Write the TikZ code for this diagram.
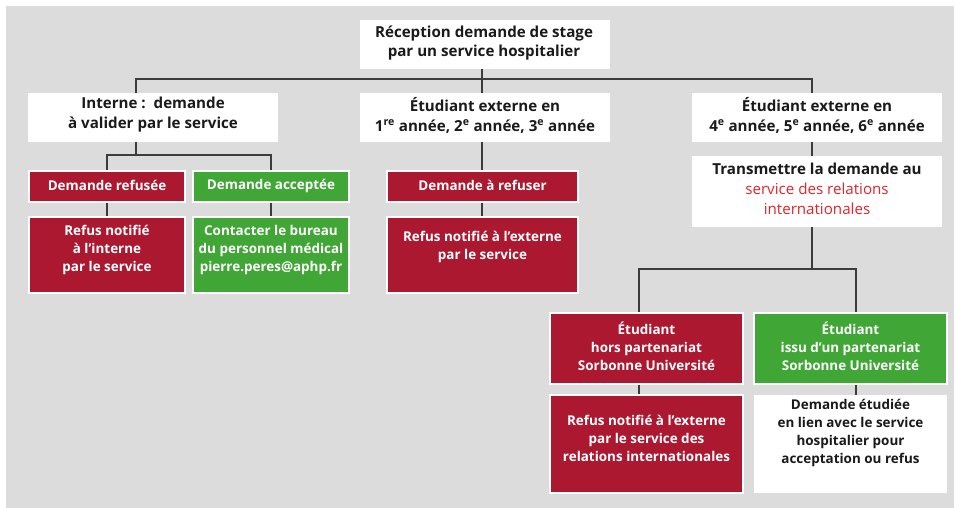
\documentclass[tikz,border=0pt]{standalone}
\usepackage{fontspec}
\setmainfont{Open Sans}
\definecolor{fond}{HTML}{DCDCDC}
\definecolor{rougebox}{HTML}{AB1830}
\definecolor{vertbox}{HTML}{40A635}
\definecolor{rougetxt}{HTML}{E2252B}
\definecolor{noir}{HTML}{1A1A1A}
\definecolor{trait}{HTML}{3C3C3C}
\tikzset{
  boxbase/.style={rectangle, inner sep=0pt},
  wbox/.style={boxbase, fill=white},
  rbox/.style={boxbase, fill=rougebox, draw=white, line width=1.5bp},
  gbox/.style={boxbase, fill=vertbox, draw=white, line width=1.5bp},
  bigtxt/.style={inner sep=0pt, align=center, text=noir, font=\fontsize{15.2}{20}\selectfont\bfseries},
  smltxt/.style={inner sep=0pt, align=center, text=white, font=\fontsize{13.5}{18}\selectfont\bfseries},
  smlblk/.style={smltxt, text=noir},
  conn/.style={draw=trait, line width=1.2bp},
}
\begin{document}
\begin{tikzpicture}[x=1bp,y=-1bp]
\useasboundingbox (0,0) rectangle (955,508);
\fill[fond] (6,6) rectangle (954,508);

% boxes
\node[wbox, minimum width=250bp, minimum height=49bp] (top) at (485,44.5) {};
\node[wbox, minimum width=250bp, minimum height=49bp] (int) at (153,117.5) {};
\node[wbox, minimum width=250bp, minimum height=49bp] (e13) at (485,117.5) {};
\node[wbox, minimum width=250bp, minimum height=49bp] (e46) at (817,117.5) {};
\node[rbox, minimum width=156bp, minimum height=31bp] (refusee) at (107,186.5) {};
\node[gbox, minimum width=156bp, minimum height=31bp] (acceptee) at (271,186.5) {};
\node[rbox, minimum width=156bp, minimum height=76bp] (refus1) at (107,255) {};
\node[gbox, minimum width=156bp, minimum height=76bp] (contact) at (271,255) {};
\node[rbox, minimum width=191bp, minimum height=31bp] (afuser) at (482.5,186.5) {};
\node[rbox, minimum width=191bp, minimum height=76bp] (refus2) at (482.5,255) {};
\node[wbox, minimum width=250bp, minimum height=71bp] (trans) at (817,191.5) {};
\node[rbox, minimum width=193bp, minimum height=71bp] (hors) at (646.5,348.5) {};
\node[gbox, minimum width=193bp, minimum height=71bp] (issu) at (850.5,348.5) {};
\node[rbox, minimum width=193bp, minimum height=98bp] (refus3) at (646.5,444) {};
\node[wbox, minimum width=193bp, minimum height=98bp] (etud) at (850.5,444) {};

% texts
\node[bigtxt] (top-t) at (484,43) {Réception demande de stage\\par un service hospitalier};
\node[bigtxt] (int-t) at (153,115) {Interne :\ \ demande\\à valider par le service};
\node[bigtxt] (e13-t) at (485,115) {Étudiant externe en\\1\textsuperscript{re} année, 2\textsuperscript{e} année, 3\textsuperscript{e} année};
\node[bigtxt] (e46-t) at (817,115) {Étudiant externe en\\4\textsuperscript{e} année, 5\textsuperscript{e} année, 6\textsuperscript{e} année};
\node[bigtxt] (trans-t) at (817,189) {Transmettre la demande au\\{\mdseries\color{rougetxt}service des relations}\\{\mdseries\color{rougetxt}internationales}};
\node[smltxt] (refusee-t) at (107,185.5) {Demande refusée};
\node[smltxt] (acceptee-t) at (271,185.5) {Demande acceptée};
\node[smltxt] (refus1-t) at (107,250) {Refus notifié\\à l’interne\\par le service};
\node[smltxt] (contact-t) at (271,250) {Contacter le bureau\\du personnel médical\\pierre.peres@aphp.fr};
\node[smltxt] (afuser-t) at (482.5,185.5) {Demande à refuser};
\node[smltxt] (refus2-t) at (482.5,247) {Refus notifié à l’externe\\par le service};
\node[smltxt] (hors-t) at (646.5,346) {Étudiant\\hors partenariat\\Sorbonne Université};
\node[smltxt] (issu-t) at (850.5,346) {Étudiant\\issu d’un partenariat\\Sorbonne Université};
\node[smltxt] (refus3-t) at (646.5,438.5) {Refus notifié à l’externe\\par le service des\\relations internationales};
\node[smlblk] (etud-t) at (850.5,433) {Demande étudiée\\en lien avec le service\\hospitalier pour\\acceptation ou refus};

% junction points
\coordinate (jA) at (136,79);
\coordinate (jM) at (482,79);
\coordinate (jB) at (812,79);
\coordinate (jL) at (136,155);
\coordinate (jR) at (812,269);
\coordinate (jH) at (639,269);
\coordinate (jI) at (856,269);

% connectors
\draw[conn] (top.south -| jM) -- (e13.north -| jM);
\draw[conn] (int.north -| jA) -- (jA) -- (jB) -- (e46.north -| jB);
\draw[conn] (int.south -| jL) -- (jL);
\draw[conn] (refusee.north) |- (jL) -| (acceptee.north);
\draw[conn] (refusee.south) -- (refus1.north);
\draw[conn] (acceptee.south) -- (contact.north);
\draw[conn] (e13.south -| jM) -- (afuser.north -| jM);
\draw[conn] (afuser.south -| jM) -- (refus2.north -| jM);
\draw[conn] (e46.south -| jB) -- (trans.north -| jB);
\draw[conn] (trans.south -| jR) -- (jR);
\draw[conn] (hors.north -| jH) -- (jH) -- (jI) -- (issu.north -| jI);
\draw[conn] (hors.south -| jH) -- (refus3.north -| jH);
\draw[conn] (issu.south -| jI) -- (etud.north -| jI);
\end{tikzpicture}
\end{document}
